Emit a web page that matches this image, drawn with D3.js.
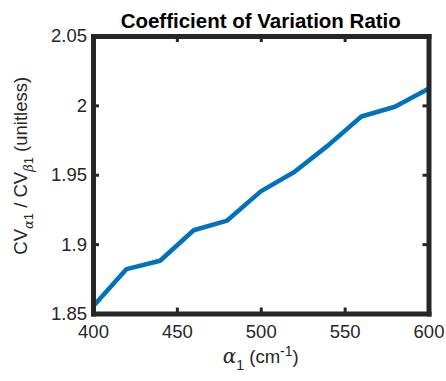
<!DOCTYPE html>
<html>
<head>
<meta charset="utf-8">
<script src="https://cdn.jsdelivr.net/npm/d3@7"></script>
<style>
  body { margin: 0; background: #fff; }
  text { font-family: "Liberation Sans", Arial, sans-serif; fill: #262626; }
</style>
</head>
<body>
<div id="chart"></div>
<script>
// data
const alpha1 = [400, 420, 440, 460, 480, 500, 520, 540, 560, 580, 600]
const cvRatio = [1.855, 1.882, 1.888, 1.910, 1.917, 1.938, 1.952, 1.971, 1.992, 1.999, 2.012]
const xTicks = [400, 450, 500, 550, 600]
const yTicks = [1.85, 1.9, 1.95, 2, 2.05]

const width = 446
const height = 381
const margin = { top: 36, right: 17.5, bottom: 67.5, left: 93 }
const innerW = width - margin.left - margin.right
const innerH = height - margin.top - margin.bottom

const x = d3.scaleLinear().domain([400, 600]).range([0, innerW])
const y = d3.scaleLinear().domain([1.85, 2.05]).range([innerH, 0])

const svg = d3.select('#chart').append('svg')
  .attr('width', width)
  .attr('height', height)

const g = svg.append('g')
  .attr('transform', `translate(${margin.left}, ${margin.top})`)

const line = d3.line()
  .x((d, i) => x(alpha1[i]))
  .y(d => y(d))

g.append('path')
  .datum(cvRatio)
  .attr('d', line)
  .attr('fill', 'none')
  .attr('stroke', '#0072BD')
  .attr('stroke-width', 4.5)
  .attr('stroke-linejoin', 'round')

// box axes, ticks pointing inward
const fmt = d => String(+d.toFixed(2))
const styleAxis = (sel) => {
  sel.selectAll('.domain')
    .attr('stroke', '#262626')
    .attr('stroke-width', 5)
    .attr('stroke-linecap', 'square')
  sel.selectAll('.tick line')
    .attr('stroke', '#262626')
    .attr('stroke-width', 3)
  sel.selectAll('.tick text')
    .attr('font-size', 18.5)
    .attr('font-family', '"Liberation Sans", Arial, sans-serif')
    .attr('fill', '#262626')
}

g.append('g')
  .attr('transform', `translate(0, ${innerH})`)
  .call(d3.axisBottom(x).tickValues(xTicks).tickSizeInner(-6).tickSizeOuter(0).tickPadding(11))
  .call(styleAxis)

g.append('g')
  .call(d3.axisTop(x).tickValues(xTicks).tickSizeInner(-6).tickSizeOuter(0).tickFormat(''))
  .call(styleAxis)

g.append('g')
  .call(d3.axisLeft(y).tickValues(yTicks).tickSizeInner(-6).tickSizeOuter(0).tickPadding(6).tickFormat(fmt))
  .call(styleAxis)

g.append('g')
  .attr('transform', `translate(${innerW}, 0)`)
  .call(d3.axisRight(y).tickValues(yTicks).tickSizeInner(-6).tickSizeOuter(0).tickFormat(''))
  .call(styleAxis)

// title
svg.append('text')
  .attr('x', margin.left + innerW / 2)
  .attr('y', 28)
  .attr('text-anchor', 'middle')
  .style('font-size', '20.5px')
  .style('font-weight', 'bold')
  .style('fill', '#000')
  .text('Coefficient of Variation Ratio')

const greek = sel => sel.style('font-family', '"DejaVu Serif", "Liberation Serif", serif').style('font-style', 'italic')

// x label
const xl = svg.append('text')
  .attr('x', margin.left + innerW / 2)
  .attr('y', 363)
  .attr('text-anchor', 'middle')
  .style('font-size', '18.5px')
xl.append('tspan').call(greek).style('font-size', '20px').text('α')
xl.append('tspan').attr('dy', 7).style('font-size', '14px').text('1')
xl.append('tspan').attr('dy', -7).text(' (cm')
xl.append('tspan').attr('dy', -7).style('font-size', '14px').text('-1')
xl.append('tspan').attr('dy', 7).text(')')

// y label
const yl = svg.append('text')
  .attr('transform', `translate(27, ${margin.top + innerH / 2 - 9}) rotate(-90)`)
  .attr('text-anchor', 'middle')
  .style('font-size', '18.5px')
yl.append('tspan').text('CV')
yl.append('tspan').attr('dy', 6).style('font-size', '13px').call(greek).text('α')
yl.append('tspan').style('font-size', '13px').text('1')
yl.append('tspan').attr('dy', -6).text(' / CV')
yl.append('tspan').attr('dy', 6).style('font-size', '13px').call(greek).text('β')
yl.append('tspan').style('font-size', '13px').text('1')
yl.append('tspan').attr('dy', -6).text(' (unitless)')
</script>
</body>
</html>
